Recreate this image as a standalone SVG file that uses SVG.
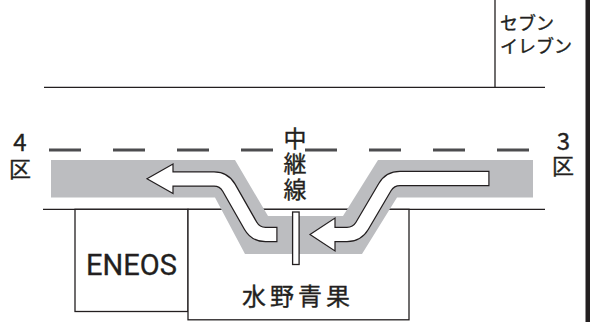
<svg xmlns="http://www.w3.org/2000/svg" width="590" height="322" viewBox="0 0 590 322">
<style>
.ln{stroke:#231f20;stroke-width:1.3;fill:none}
.bld{fill:#fff;stroke:#231f20;stroke-width:1.3}
.jp{font-family:"Noto Sans CJK JP","Noto Sans",sans-serif;fill:#231f20;stroke:#231f20;stroke-width:0.35}
.ol{fill:none;stroke:#231f20;stroke-width:15.5;stroke-linejoin:round}
.in{fill:none;stroke:#fff;stroke-width:13;stroke-linejoin:round}
.head{fill:#fff;stroke:#231f20;stroke-width:1.2;stroke-linejoin:miter}
</style>
<rect width="590" height="322" fill="#fff"/>
<g id="roads">
<line class="ln" x1="44" y1="87.3" x2="545" y2="87.3"/>
<line class="ln" x1="43" y1="209.3" x2="545" y2="209.3"/>
<line x1="49" y1="150" x2="529" y2="150" stroke="#4d4d4f" stroke-width="3" stroke-dasharray="32 32"/>
<rect x="585.5" y="0" width="4.5" height="322" fill="#231f20"/>
</g>
<g id="seven-eleven">
<line class="ln" x1="495" y1="0" x2="495" y2="87.3"/>
<text class="jp" x="500" y="30" font-size="18">セブン</text>
<text class="jp" x="500" y="52.5" font-size="18">イレブン</text>
</g>
<g id="eneos">
<rect class="bld" x="75" y="209.3" width="113" height="102.2"/>
<text x="131.5" y="275" font-family="Roboto,'Liberation Sans',sans-serif" font-size="29" fill="#231f20" stroke="#231f20" stroke-width="0.3" text-anchor="middle">ENEOS</text>
</g>
<g id="mizuno">
<rect class="bld" x="188" y="209.3" width="221" height="110.5"/>
<text class="jp" x="242" y="305" font-size="24" letter-spacing="4">水野青果</text>
</g>
<g id="lane">
<polygon fill="#bcbdc0" points="51,160 235,160 268,216 343,216 378,160 533,160 533,197.5 397,197.5 362,254 245,254 215,197.5 51,197.5"/>
</g>
<g id="labels">
<text class="jp" x="20" y="151" font-size="24" text-anchor="middle">4</text>
<text class="jp" x="20" y="176.5" font-size="22" text-anchor="middle">区</text>
<text class="jp" x="563.5" y="150" font-size="24" text-anchor="middle">3</text>
<text class="jp" x="563" y="174" font-size="22" text-anchor="middle">区</text>
<text class="jp" x="295" y="146.5" font-size="23" text-anchor="middle">中</text>
<text class="jp" x="295" y="172" font-size="23" text-anchor="middle">継</text>
<text class="jp" x="295" y="197.5" font-size="23" text-anchor="middle">線</text>
</g>
<g id="connectors">
<path class="ol" d="M277.5,234.5 L265.5,234.5 Q255.5,234.5 250.6,225.8 L228.9,187.7 Q224,179 214,179 L173,179"/>
<polygon class="head" points="147,178.8 173,164 173,193.5"/>
<path class="in" d="M276.3,234.5 L265.5,234.5 Q255.5,234.5 250.6,225.8 L228.9,187.7 Q224,179 214,179 L171,179"/>
<path class="ol" d="M489.5,178.5 L400,178.5 Q390,178.5 384.9,187.1 L362.1,225.9 Q357,234.5 347,234.5 L335,234.5"/>
<polygon class="head" points="310,234.5 335,218 335,251"/>
<path class="in" d="M488.3,178.5 L400,178.5 Q390,178.5 384.9,187.1 L362.1,225.9 Q357,234.5 347,234.5 L333,234.5"/>
</g>
<g id="relay-line">
<rect x="292.6" y="212" width="6.5" height="52.5" fill="#fff" stroke="#231f20" stroke-width="1.3"/>
</g>
</svg>
